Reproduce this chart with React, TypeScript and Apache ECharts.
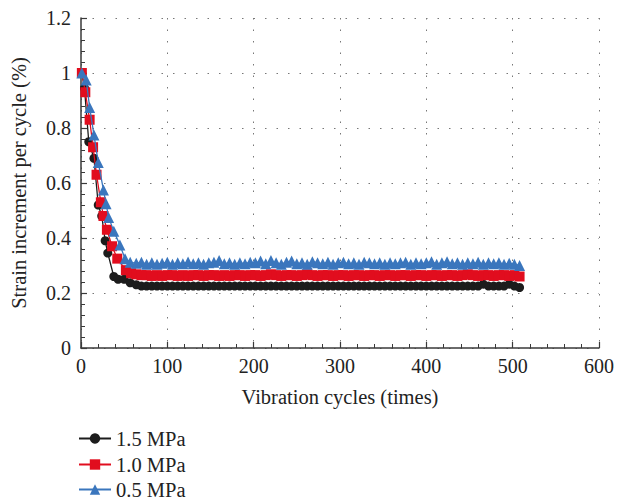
import React, { useEffect, useRef } from "react";
import * as echarts from "echarts";

// Tick labels / axis
const xTicks = [0, 100, 200, 300, 400, 500, 600];
const yTicks = [0, 0.2, 0.4, 0.6, 0.8, 1, 1.2];

const seriesNames = ["1.5 MPa", "1.0 MPa", "0.5 MPa"];

// Early (decay) part of each curve
const blackEarlyCycles = [1, 4, 9, 15, 20, 24, 28, 31, 38, 43, 50, 57];
const blackEarlyValues = [1.0, 0.945, 0.75, 0.69, 0.52, 0.48, 0.39, 0.345, 0.26, 0.25, 0.25, 0.237];

const redEarlyCycles = [1, 5, 10, 14, 18, 23, 26, 30, 36, 42, 52, 58];
const redEarlyValues = [1.0, 0.93, 0.83, 0.73, 0.63, 0.53, 0.48, 0.43, 0.37, 0.325, 0.283, 0.272];

const blueEarlyCycles = [1, 6, 10, 15, 20, 26, 29, 32, 38, 45, 51, 57];
const blueEarlyValues = [1.0, 0.975, 0.875, 0.775, 0.675, 0.575, 0.525, 0.475, 0.425, 0.375, 0.325, 0.312];

// Stable part (shared cycles)
const flatCycles = [
  64, 70, 76, 82, 88, 94, 100, 106, 112, 118,
  124, 130, 136, 142, 148, 154, 160, 166, 172, 178,
  184, 190, 196, 202, 208, 214, 220, 226, 232, 238,
  244, 250, 256, 262, 268, 274, 280, 286, 292, 298,
  304, 310, 316, 322, 328, 334, 340, 346, 352, 358,
  364, 370, 376, 382, 388, 394, 400, 406, 412, 418,
  424, 430, 436, 442, 448, 454, 460, 466, 472, 478,
  484, 490, 496, 502, 508,
];

const blackFlatValues = [
  0.23, 0.225, 0.225, 0.225, 0.225, 0.225, 0.225, 0.225, 0.225, 0.225,
  0.225, 0.225, 0.225, 0.225, 0.225, 0.225, 0.225, 0.225, 0.225, 0.225,
  0.225, 0.225, 0.225, 0.225, 0.225, 0.225, 0.225, 0.225, 0.225, 0.225,
  0.225, 0.225, 0.225, 0.225, 0.225, 0.225, 0.225, 0.225, 0.225, 0.225,
  0.225, 0.225, 0.225, 0.225, 0.225, 0.225, 0.225, 0.225, 0.225, 0.225,
  0.225, 0.225, 0.225, 0.225, 0.225, 0.225, 0.225, 0.225, 0.225, 0.225,
  0.225, 0.225, 0.225, 0.225, 0.225, 0.225, 0.225, 0.232, 0.225, 0.225,
  0.225, 0.225, 0.232, 0.225, 0.22,
];

const redFlatValues = [
  0.268, 0.265, 0.265, 0.262, 0.265, 0.262, 0.265, 0.265, 0.262, 0.265,
  0.262, 0.265, 0.265, 0.262, 0.265, 0.265, 0.262, 0.265, 0.262, 0.265,
  0.265, 0.262, 0.265, 0.265, 0.262, 0.265, 0.268, 0.265, 0.262, 0.265,
  0.265, 0.262, 0.265, 0.268, 0.265, 0.262, 0.265, 0.265, 0.262, 0.265,
  0.265, 0.262, 0.265, 0.265, 0.262, 0.265, 0.265, 0.262, 0.265, 0.265,
  0.262, 0.265, 0.265, 0.262, 0.265, 0.265, 0.262, 0.265, 0.265, 0.262,
  0.265, 0.265, 0.262, 0.265, 0.268, 0.265, 0.262, 0.265, 0.265, 0.262,
  0.265, 0.265, 0.262, 0.265, 0.26,
];

const blueFlatValues = [
  0.308, 0.312, 0.305, 0.31, 0.305, 0.308, 0.312, 0.305, 0.31, 0.306,
  0.313, 0.306, 0.31, 0.305, 0.31, 0.312, 0.318, 0.306, 0.31, 0.305,
  0.31, 0.306, 0.312, 0.31, 0.316, 0.306, 0.318, 0.31, 0.305, 0.312,
  0.316, 0.306, 0.31, 0.305, 0.314, 0.31, 0.306, 0.312, 0.305, 0.31,
  0.312, 0.306, 0.31, 0.305, 0.312, 0.31, 0.306, 0.31, 0.305, 0.31,
  0.306, 0.31, 0.312, 0.305, 0.31, 0.306, 0.31, 0.314, 0.305, 0.31,
  0.314, 0.306, 0.31, 0.305, 0.31, 0.306, 0.312, 0.305, 0.31, 0.306,
  0.31, 0.305, 0.308, 0.305, 0.3,
];

const colors = ["#1c1c1c", "#e10d1e", "#3a76bd"];
const symbols = ["circle", "rect", "triangle"];
const symbolSizes = [9, 10, 11];

const FONT = "'Liberation Serif', 'DejaVu Serif', serif";

function pairs(cx: number[], vals: number[]) {
  return cx.map((c, i) => [c, vals[i]]);
}

export default function App() {
  const ref = useRef<HTMLDivElement>(null);

  useEffect(() => {
    if (!ref.current) return;
    const chart = echarts.init(ref.current, null, { renderer: "svg" });

    const seriesData = [
      pairs(blackEarlyCycles, blackEarlyValues).concat(pairs(flatCycles, blackFlatValues)),
      pairs(redEarlyCycles, redEarlyValues).concat(pairs(flatCycles, redFlatValues)),
      pairs(blueEarlyCycles, blueEarlyValues).concat(pairs(flatCycles, blueFlatValues)),
    ];

    const axisLineColor = "#3a3a3a";
    const splitLineStyle = { color: "#777", width: 1, type: [1.5, 10] as any };
    const legendTops = [428, 454, 479];

    chart.setOption({
      animation: false,
      backgroundColor: "#ffffff",
      grid: { left: 80, right: 15, top: 18, bottom: 154, containLabel: false },
      legend: seriesNames.map((name, i) => ({
        orient: "vertical",
        left: 78,
        top: legendTops[i],
        padding: 0,
        itemWidth: 32,
        itemHeight: 13,
        data: [name],
        textStyle: { fontFamily: FONT, fontSize: 20.5, color: "#222", lineHeight: 20 },
      })),
      xAxis: {
        type: "value",
        min: xTicks[0],
        max: xTicks[xTicks.length - 1],
        interval: 100,
        name: "Vibration cycles (times)",
        nameLocation: "middle",
        nameGap: 38,
        nameTextStyle: { fontFamily: FONT, fontSize: 20.5, color: "#222" },
        axisLine: { show: true, lineStyle: { color: axisLineColor, width: 1.5 } },
        axisTick: { show: true, inside: true, length: 6, lineStyle: { color: axisLineColor, width: 1.2 } },
        minorTick: { show: true, splitNumber: 5, length: 4, lineStyle: { color: axisLineColor, width: 1 } },
        axisLabel: { fontFamily: FONT, fontSize: 20, color: "#222", margin: 8 },
        splitLine: { show: true, lineStyle: splitLineStyle },
      },
      yAxis: {
        type: "value",
        min: yTicks[0],
        max: yTicks[yTicks.length - 1],
        interval: 0.2,
        name: "Strain increment per cycle (%)",
        nameLocation: "middle",
        nameGap: 52,
        nameTextStyle: { fontFamily: FONT, fontSize: 20.5, color: "#222" },
        axisLine: { show: true, lineStyle: { color: axisLineColor, width: 1.5 } },
        axisTick: { show: true, inside: true, length: 6, lineStyle: { color: axisLineColor, width: 1.2 } },
        minorTick: { show: true, splitNumber: 5, length: 4, lineStyle: { color: axisLineColor, width: 1 } },
        axisLabel: { fontFamily: FONT, fontSize: 20, color: "#222", margin: 10 },
        splitLine: { show: true, lineStyle: splitLineStyle },
      },
      series: seriesNames.map((name, i) => ({
        name,
        type: "line",
        data: seriesData[i],
        symbol: symbols[i],
        symbolSize: symbolSizes[i],
        showAllSymbol: true,
        color: colors[i],
        lineStyle: { color: colors[i], width: 1.3 },
        itemStyle: { color: colors[i] },
        z: 2 + i,
      })),
    });

    return () => chart.dispose();
  }, []);

  return (
    <div
      ref={ref}
      style={{ position: "fixed", left: 0, top: 0, width: 617, height: 502 }}
    />
  );
}
